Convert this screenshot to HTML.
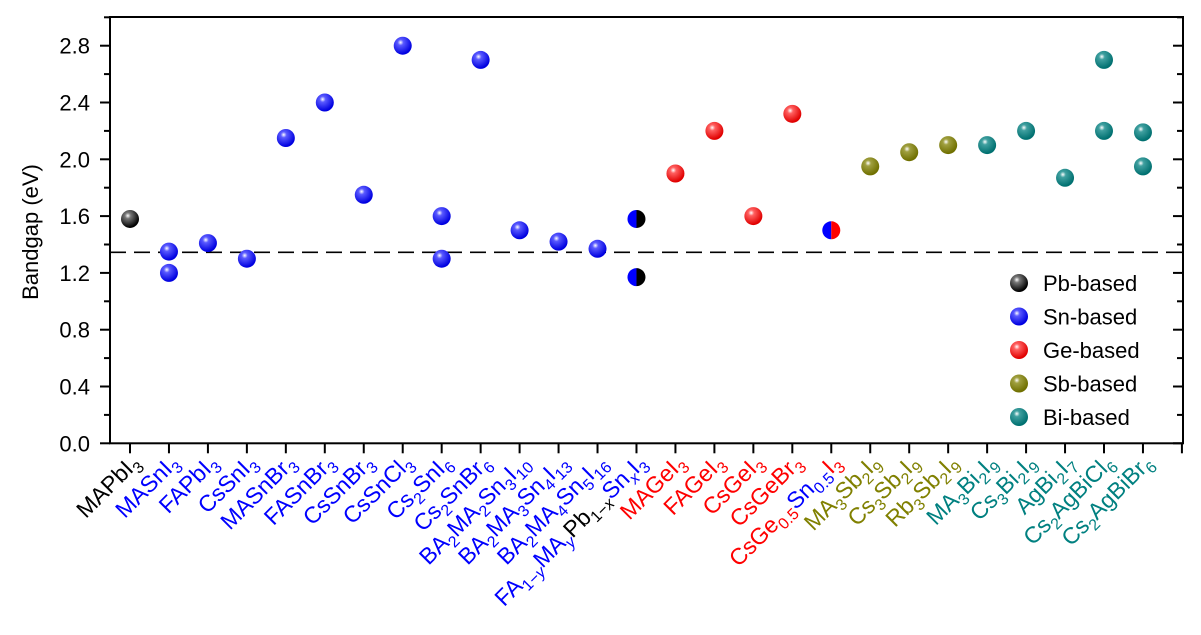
<!DOCTYPE html>
<html><head><meta charset="utf-8"><style>
html,body{margin:0;padding:0;background:#fff}
svg{display:block;font-family:"Liberation Sans",Arial,sans-serif}
</style></head><body>
<svg id="chart" width="1201" height="635" viewBox="0 0 1201 635" xmlns="http://www.w3.org/2000/svg">
<defs>
<radialGradient id="g-black" cx="0.38" cy="0.32" r="0.65"><stop offset="0" stop-color="#fff"/><stop offset="0.25" stop-color="#777"/><stop offset="1" stop-color="#000"/></radialGradient>
<radialGradient id="g-blue" cx="0.38" cy="0.32" r="0.65"><stop offset="0" stop-color="#fff"/><stop offset="0.25" stop-color="#5a5aff"/><stop offset="1" stop-color="#0000e0"/></radialGradient>
<radialGradient id="g-red" cx="0.38" cy="0.32" r="0.65"><stop offset="0" stop-color="#fff"/><stop offset="0.25" stop-color="#ff6060"/><stop offset="1" stop-color="#e00000"/></radialGradient>
<radialGradient id="g-olive" cx="0.38" cy="0.32" r="0.65"><stop offset="0" stop-color="#fff"/><stop offset="0.25" stop-color="#a0a040"/><stop offset="1" stop-color="#707000"/></radialGradient>
<radialGradient id="g-teal" cx="0.38" cy="0.32" r="0.65"><stop offset="0" stop-color="#fff"/><stop offset="0.25" stop-color="#40a0a0"/><stop offset="1" stop-color="#007070"/></radialGradient>
</defs>
<g id="axes"></g>
<g id="marks"></g>
<g id="labels"></g>
<g id="legend"></g>
</svg>
<script>
const categories = ["MAPbI3","MASnI3","FAPbI3","CsSnI3","MASnBr3","FASnBr3","CsSnBr3","CsSnCl3","Cs2SnI6","Cs2SnBr6","BA2MA2Sn3I10","BA2MA3Sn4I13","BA2MA4Sn5I16","FAMAPbSnI3","MAGeI3","FAGeI3","CsGeI3","CsGeBr3","CsGeSnI3","MA3Sb2I9","Cs3Sb2I9","Rb3Sb2I9","MA3Bi2I9","Cs3Bi2I9","AgBi2I7","Cs2AgBiCl6","Cs2AgBiBr6"];
const pointCat = [0,1,1,2,3,4,5,6,7,8,8,9,10,11,12,13,13,14,15,16,17,18,19,20,21,22,23,24,25,25,26,26];
const pointVal = [1.58,1.35,1.20,1.41,1.30,2.15,2.40,1.75,2.80,1.60,1.30,2.70,1.50,1.42,1.37,1.58,1.17,1.90,2.20,1.60,2.32,1.50,1.95,2.05,2.10,2.10,2.20,1.87,2.70,2.20,2.19,1.95];
const pointType = ["Pb","Sn","Sn","Sn","Sn","Sn","Sn","Sn","Sn","Sn","Sn","Sn","Sn","Sn","Sn","SnPb","SnPb","Ge","Ge","Ge","Ge","SnGe","Sb","Sb","Sb","Bi","Bi","Bi","Bi","Bi","Bi","Bi"];
const yTicks = [0.0,0.4,0.8,1.2,1.6,2.0,2.4,2.8];
const yTickLabels = ["0.0","0.4","0.8","1.2","1.6","2.0","2.4","2.8"];
const refLine = 1.345;
const legendNames = ["Pb-based","Sn-based","Ge-based","Sb-based","Bi-based"];
const legendTypes = ["Pb","Sn","Ge","Sb","Bi"];

const NS="http://www.w3.org/2000/svg";
const X0=110,X1=1183,Y0=443.3,Y1=17;
const yScale=v=>Y0-v*142;
const xScale=i=>130+i*38.96;
const fills={Pb:"url(#g-black)",Sn:"url(#g-blue)",Ge:"url(#g-red)",Sb:"url(#g-olive)",Bi:"url(#g-teal)"};
function mk(tag,attrs,parent){const e=document.createElementNS(NS,tag);for(const k in attrs)e.setAttribute(k,attrs[k]);parent.appendChild(e);return e;}
const axes=document.getElementById('axes');
let e=mk('rect',{x:X0,y:Y1,width:X1-X0,height:Y0-Y1,fill:"none",stroke:"#000","stroke-width":2},axes);


for(let v=0;v<=3.0001;v+=0.2){
  const y=yScale(v);const major=Math.round(v*10)%4===0;
  e=mk('line',{x1:X0,x2:X0-(major?10:6),y1:y,y2:y,stroke:"#000","stroke-width":2},axes);
  
  
  e=mk('line',{x1:X1,x2:X1-(major?10:6),y1:y,y2:y,stroke:"#000","stroke-width":2},axes);
  
  
}
yTicks.forEach((v,i)=>{
  e=mk('text',{x:X0-20,y:yScale(v)+8,"text-anchor":"end","font-size":22,fill:"#000"},axes);
  e.textContent=yTickLabels[i];
  
  
});
e=mk('text',{x:0,y:0,transform:"translate(38,232) rotate(-90)","text-anchor":"middle","font-size":22,fill:"#000"},axes);
e.textContent="Bandgap (eV)";


for(let i=0;i<=categories.length;i++){
  const x=Math.min(xScale(i),X1);
  e=mk('line',{x1:x,x2:x,y1:Y0,y2:Y0+10,stroke:"#000","stroke-width":2},axes);
  
  
}
e=mk('line',{x1:X0,x2:X1,y1:yScale(refLine),y2:yScale(refLine),stroke:"#000","stroke-width":1.6,"stroke-dasharray":"16,8"},axes);



const marks=document.getElementById('marks');
pointVal.forEach((v,k)=>{
  const cx=xScale(pointCat[k]),cy=yScale(v),r=9,t=pointType[k];
  if(t==="SnPb"||t==="SnGe"){
    const g=mk('g',{},marks);
    
    
    mk('path',{d:`M${cx},${cy-r} A${r},${r} 0 0 0 ${cx},${cy+r} Z`,fill:"#0000ff"},g);
    mk('path',{d:`M${cx},${cy-r} A${r},${r} 0 0 1 ${cx},${cy+r} Z`,fill:t==="SnPb"?"#000":"#ff0000"},g);
  } else {
    e=mk('circle',{cx:cx,cy:cy,r:r,fill:fills[t]},marks);
    
    
  }
});

const B="#0000ff",K="#000",R="#ff0000",O="#808000",T="#008080";
function L(c,parts){return {c,parts};}
const labelDefs=[
L(K,[["MAPbI"],["3",1]]),
L(B,[["MASnI"],["3",1]]),
L(B,[["FAPbI"],["3",1]]),
L(B,[["CsSnI"],["3",1]]),
L(B,[["MASnBr"],["3",1]]),
L(B,[["FASnBr"],["3",1]]),
L(B,[["CsSnBr"],["3",1]]),
L(B,[["CsSnCl"],["3",1]]),
L(B,[["Cs"],["2",1],["SnI"],["6",1]]),
L(B,[["Cs"],["2",1],["SnBr"],["6",1]]),
L(B,[["BA"],["2",1],["MA"],["2",1],["Sn"],["3",1],["I"],["10",1]]),
L(B,[["BA"],["2",1],["MA"],["3",1],["Sn"],["4",1],["I"],["13",1]]),
L(B,[["BA"],["2",1],["MA"],["4",1],["Sn"],["5",1],["I"],["16",1]]),
L(B,[["FA"],["1−",1],["y",1,1],["MA"],["y",1,1],["Pb",0,0,K],["1−",1,0,K],["x",1,1,K],["Sn"],["x",1,1],["I"],["3",1]]),
L(R,[["MAGeI"],["3",1]]),
L(R,[["FAGeI"],["3",1]]),
L(R,[["CsGeI"],["3",1]]),
L(R,[["CsGeBr"],["3",1]]),
L(R,[["CsGe"],["0.5",1],["Sn",0,0,B],["0.5",1,0,B],["I"],["3",1]]),
L(O,[["MA"],["3",1],["Sb"],["2",1],["I"],["9",1]]),
L(O,[["Cs"],["3",1],["Sb"],["2",1],["I"],["9",1]]),
L(O,[["Rb"],["3",1],["Sb"],["2",1],["I"],["9",1]]),
L(T,[["MA"],["3",1],["Bi"],["2",1],["I"],["9",1]]),
L(T,[["Cs"],["3",1],["Bi"],["2",1],["I"],["9",1]]),
L(T,[["AgBi"],["2",1],["I"],["7",1]]),
L(T,[["Cs"],["2",1],["AgBiCl"],["6",1]]),
L(T,[["Cs"],["2",1],["AgBiBr"],["6",1]])
];
const labels=document.getElementById('labels');
labelDefs.forEach((d,i)=>{
  const x=xScale(i)+11,y=464;
  const t=mk('text',{x:0,y:0,transform:`translate(${x},${y}) rotate(-45)`,"text-anchor":"end","font-size":23,fill:d.c},labels);
  
  
  let sub=false;
  d.parts.forEach(p=>{
    const s=document.createElementNS(NS,'tspan');
    const isSub=!!p[1];
    let dy=0;
    if(isSub&&!sub)dy=6;else if(!isSub&&sub)dy=-6;
    sub=isSub;
    if(dy)s.setAttribute('dy',dy);
    if(isSub)s.setAttribute('font-size',16);
    if(p[2])s.setAttribute('font-style','italic');
    if(p[3])s.setAttribute('fill',p[3]);
    s.textContent=p[0];
    t.appendChild(s);
  });
});

const legend=document.getElementById('legend');
legendNames.forEach((n,i)=>{
  const y=283+i*33.5;
  const g=mk('g',{},legend);
  
  
  mk('circle',{cx:1019,cy:y,r:9,fill:fills[legendTypes[i]]},g);
  const tx=mk('text',{x:1043,y:y+8,"font-size":22,fill:"#000"},g);
  tx.textContent=n;
});
</script>
</body></html>
